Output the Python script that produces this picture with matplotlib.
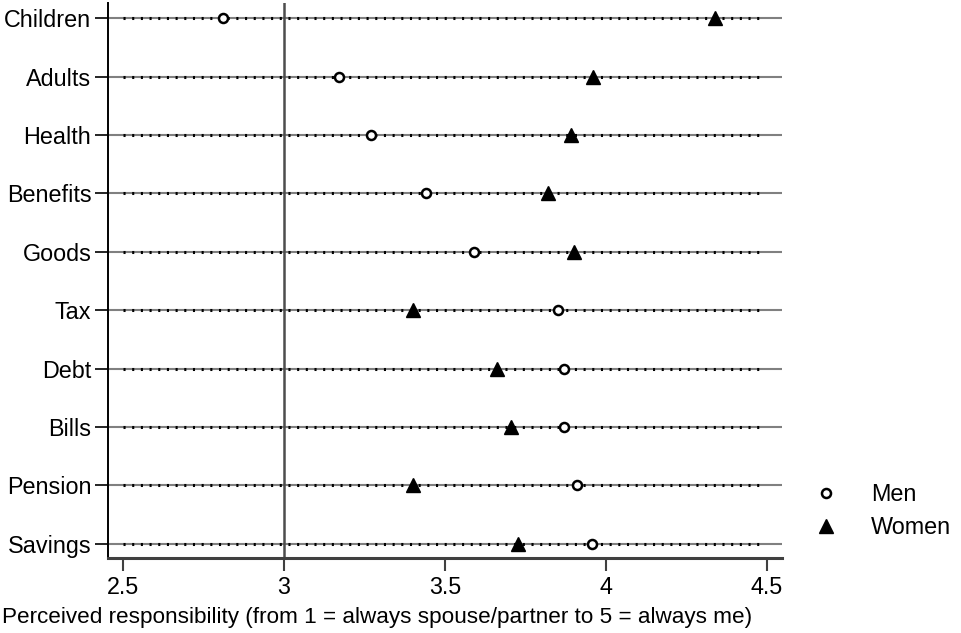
import matplotlib
matplotlib.use("Agg")
import matplotlib.pyplot as plt

plt.rcParams["font.family"] = ["Liberation Sans", "DejaVu Sans"]
plt.rcParams["lines.scale_dashes"] = False

# rows listed top to bottom
categories = ["Children", "Adults", "Health", "Benefits", "Goods",
              "Tax", "Debt", "Bills", "Pension", "Savings"]
men = [2.81, 3.17, 3.27, 3.44, 3.59, 3.85, 3.87, 3.87, 3.91, 3.955]
women = [4.34, 3.96, 3.89, 3.82, 3.90, 3.40, 3.66, 3.705, 3.40, 3.727]
xticks = [2.5, 3, 3.5, 4, 4.5]
xtick_labels = ["2.5", "3", "3.5", "4", "4.5"]
ref_line = 3
dots_from, dots_to = 2.5, 4.48

FS = 16.8

fig = plt.figure(figsize=(9.61, 6.33), dpi=100)
ax = fig.add_axes([108 / 961, 75 / 633, 674 / 961, 555 / 633])

n = len(categories)
ypos = [n - 1 - i for i in range(n)]

for y in ypos:
    ax.axhline(y, color="#808080", lw=1.5, zorder=1)
    ax.plot([dots_from, dots_to], [y, y], color="black", lw=2.2,
            linestyle=(0, (1.5, 4.75)), zorder=2)

ax.axvline(ref_line, color="#4d4d4d", lw=1.8, zorder=1.5)

ax.plot(men, ypos, linestyle="none", marker="o", ms=6.5, mfc="white",
        mec="black", mew=1.8, zorder=4, label="Men")
ax.plot(women, ypos, linestyle="none", marker="^", ms=9.5, color="black",
        zorder=3, label="Women")

ax.set_xlim(2.5 - 15 / 322, 4.5 + 15 / 322)
ax.set_ylim(-0.245, n - 1 + 0.26)
ax.set_yticks(ypos)
ax.set_yticklabels(categories, fontsize=FS)
ax.set_xticks(xticks)
ax.set_xticklabels(xtick_labels, fontsize=FS)
ax.tick_params(axis="y", length=9.5, width=1.2, pad=2.5, color="black")
ax.tick_params(axis="x", length=9, width=1.5, pad=4, color="#404040")

for side in ["top", "right"]:
    ax.spines[side].set_visible(False)
ax.spines["left"].set_linewidth(1.4)
ax.spines["bottom"].set_linewidth(2.2)
ax.spines["bottom"].set_color("#404040")

fig.text(0.002, 1 - 617 / 633,
         "Perceived responsibility (from 1 = always spouse/partner to 5 = always me)",
         fontsize=16.2, ha="left", va="center")

leg = fig.legend(loc="upper left", bbox_to_anchor=(815 / 961, 1 - 483 / 633),
                 frameon=False, fontsize=FS, handlelength=0.9,
                 handletextpad=1.5, labelspacing=0.45, borderpad=0,
                 borderaxespad=0, numpoints=1)

fig.savefig("out.png", dpi=100)
